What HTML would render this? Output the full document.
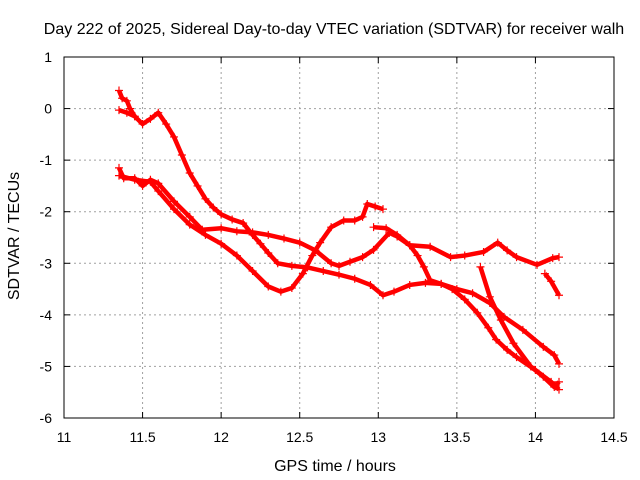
<!DOCTYPE html>
<html><head><meta charset="utf-8"><style>
body{margin:0;background:#fff}
svg{display:block;font-family:"Liberation Sans",sans-serif}
</style></head><body>
<svg id="c" width="640" height="480">
<text x="334" y="34" font-size="16" text-anchor="middle">Day 222 of 2025, Sidereal Day-to-day VTEC variation (SDTVAR) for receiver walh</text>
<text x="335" y="471" font-size="16" text-anchor="middle">GPS time / hours</text>
<text x="19" y="236" font-size="16" text-anchor="middle" transform="rotate(-90 19 236)">SDTVAR / TECUs</text>
<g id="grid"></g><g id="series"></g>
<rect x="64" y="57" width="550" height="361" fill="none" stroke="#000"/>
</svg>
<script>
const xTicks=[11,11.5,12,12.5,13,13.5,14,14.5];
const xTickLabels=["11","11.5","12","12.5","13","13.5","14","14.5"];
const yTicks=[1,0,-1,-2,-3,-4,-5,-6];
const yTickLabels=["1","0","-1","-2","-3","-4","-5","-6"];
const s1t=[11.35,11.37,11.4,11.42,11.45];
const s1v=[0.35,0.2,0.15,0.0,-0.15];
const s2t=[11.35,11.4,11.45,11.5,11.55,11.6,11.65,11.7,11.75,11.8,11.85,11.9,11.95,12.0,12.07,12.14,12.2,12.25,12.3,12.36,12.45,12.55,12.65,12.75,12.85,12.95,13.03,13.1,13.2,13.3,13.4,13.47,13.55,13.63,13.7,13.75,13.82,13.88,14.0,14.1,14.15];
const s2v=[-0.03,-0.08,-0.15,-0.3,-0.2,-0.08,-0.3,-0.55,-0.9,-1.25,-1.5,-1.75,-1.92,-2.05,-2.15,-2.22,-2.45,-2.62,-2.8,-3.0,-3.05,-3.08,-3.15,-3.22,-3.3,-3.42,-3.62,-3.55,-3.42,-3.38,-3.4,-3.5,-3.7,-3.96,-4.25,-4.48,-4.68,-4.82,-5.07,-5.3,-5.45];
const s3t=[11.35,11.45,11.55,11.6,11.7,11.8,11.9,12.0,12.1,12.2,12.3,12.38,12.45,12.52,12.58,12.63,12.7,12.78,12.85,12.9,12.93,12.98,13.03];
const s3v=[-1.3,-1.38,-1.42,-1.6,-1.95,-2.25,-2.45,-2.62,-2.85,-3.15,-3.45,-3.55,-3.48,-3.2,-2.85,-2.6,-2.3,-2.17,-2.17,-2.1,-1.85,-1.9,-1.95];
const s4t=[11.35,11.38,11.45,11.5,11.55,11.6,11.7,11.8,11.88,12.0,12.1,12.2,12.3,12.4,12.5,12.6,12.7,12.75,12.82,12.9,12.97,13.07,13.12,13.2,13.33,13.46,13.55,13.67,13.76,13.82,13.88,14.01,14.11,14.15];
const s4v=[-1.15,-1.35,-1.35,-1.5,-1.38,-1.45,-1.8,-2.1,-2.35,-2.32,-2.38,-2.4,-2.45,-2.52,-2.6,-2.75,-3.0,-3.05,-2.97,-2.88,-2.74,-2.41,-2.48,-2.65,-2.68,-2.88,-2.85,-2.78,-2.6,-2.75,-2.88,-3.03,-2.9,-2.88];
const s5t=[12.97,13.05,13.12,13.2,13.25,13.29,13.33,13.4,13.5,13.6,13.71,13.8,13.92,14.05,14.12,14.15];
const s5v=[-2.3,-2.32,-2.45,-2.65,-2.85,-3.07,-3.33,-3.4,-3.5,-3.58,-3.77,-4.04,-4.29,-4.62,-4.78,-4.95];
const s6t=[13.65,13.71,13.78,13.86,13.97,14.05,14.12,14.15];
const s6v=[-3.07,-3.65,-4.1,-4.55,-5.0,-5.2,-5.4,-5.3];
const s7t=[14.06,14.1,14.15];
const s7v=[-3.2,-3.35,-3.62];
const NS="http://www.w3.org/2000/svg";
const X=t=>64+(t-11)/3.5*550;
const Y=v=>57+(1-v)/7*361;
function mk(tag,a,p){const e=document.createElementNS(NS,tag);for(const k in a)e.setAttribute(k,a[k]);p.appendChild(e);return e;}
const g=document.getElementById('grid');
xTicks.forEach((t,i)=>{const x=X(t);
 if(i>0&&i<xTicks.length-1){const l=mk('line',{x1:x,x2:x,y1:57,y2:418,stroke:'#a0a0a0','stroke-dasharray':'2,3'},g);
 
 }
 mk('line',{x1:x,x2:x,y1:418,y2:412,stroke:'#000'},g);mk('line',{x1:x,x2:x,y1:57,y2:63,stroke:'#000'},g);
 const tx=mk('text',{x:x,y:442,'font-size':14,'text-anchor':'middle'},g);tx.textContent=xTickLabels[i];
 
 });
yTicks.forEach((v,i)=>{const y=Y(v);
 if(i>0&&i<yTicks.length-1){const l=mk('line',{x1:64,x2:614,y1:y,y2:y,stroke:'#a0a0a0','stroke-dasharray':'2,3'},g);
 
 }
 mk('line',{x1:64,x2:70,y1:y,y2:y,stroke:'#000'},g);mk('line',{x1:614,x2:608,y1:y,y2:y,stroke:'#000'},g);
 const tx=mk('text',{x:52,y:y+5,'font-size':14,'text-anchor':'end'},g);tx.textContent=yTickLabels[i];
 
 });
const sg=document.getElementById('series');
[[s1t,s1v],[s2t,s2v],[s3t,s3v],[s4t,s4v],[s5t,s5v],[s6t,s6v],[s7t,s7v]].forEach(([ts,vs],k)=>{
 const pl=mk('polyline',{points:ts.map((t,i)=>X(t)+','+Y(vs[i])).join(' '),fill:'none',stroke:'#f00','stroke-width':4.5,'stroke-linejoin':'round'},sg);
 
 
 ts.forEach((t,i)=>{const x=X(t),y=Y(vs[i]);
  const p=mk('path',{d:`M${x-4},${y}h8M${x},${y-4}v8`,stroke:'#f00','stroke-width':1.2},sg);
  
  });
});
</script>
</body></html>
